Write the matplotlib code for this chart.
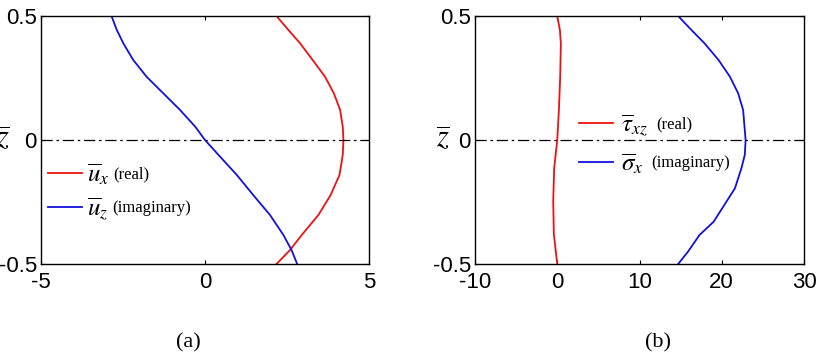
import numpy as np
import matplotlib
matplotlib.use('Agg')
import matplotlib.pyplot as plt

plt.rcParams['font.family'] = 'Liberation Sans'
plt.rcParams['mathtext.fontset'] = 'stix'

# panel (a): displacements
z_a = [0.5, 0.444, 0.390, 0.323, 0.255, 0.188, 0.121, 0.054, 0.0,
       -0.06, -0.141, -0.222, -0.302, -0.383, -0.444, -0.5]
ux_real = [2.18, 2.54, 2.90, 3.28, 3.66, 3.93, 4.12, 4.20, 4.22,
           4.20, 4.10, 3.83, 3.46, 2.95, 2.59, 2.18]
uz_imag = [-2.85, -2.69, -2.49, -2.19, -1.78, -1.27, -0.76, -0.30, 0.0,
           0.41, 0.97, 1.47, 1.98, 2.39, 2.64, 2.81]

# panel (b): stresses
z_tau = [0.5, 0.444, 0.39, 0.255, 0.121, 0.0, -0.113, -0.247, -0.38, -0.5]
tau_xz = [0.0, 0.32, 0.44, 0.36, 0.2, 0.0, -0.37, -0.49, -0.41, 0.0]
z_sig = [0.5, 0.444, 0.39, 0.323, 0.255, 0.188, 0.121, 0.0,
         -0.06, -0.113, -0.195, -0.247, -0.33, -0.383, -0.45, -0.5]
sigma_x = [14.7, 16.3, 17.9, 19.6, 21.0, 22.0, 22.6, 22.9,
           22.8, 22.4, 21.6, 20.6, 19.0, 17.3, 15.9, 14.7]

RED = '#ee1111'
BLUE = '#1111dd'

fig = plt.figure(figsize=(8.16, 3.56), dpi=100)
W, H = 816, 356
ax1 = fig.add_axes([41 / W, 1 - 264 / H, 328 / W, 248 / H])
ax2 = fig.add_axes([475 / W, 1 - 264 / H, 329 / W, 248 / H])


def style(ax, xlim, xticks, zx):
    ax.set_xlim(*xlim)
    ax.set_ylim(-0.5, 0.5)
    ax.set_xticks(xticks)
    ax.set_yticks([-0.5, 0, 0.5])
    ax.set_yticklabels(['-0.5', '0', '0.5'])
    ax.set_xticklabels([str(t) for t in xticks])
    ax.tick_params(direction='in', top=True, right=True, labelsize=16, length=3)
    ax.tick_params(axis='x', pad=6)
    ax.tick_params(axis='y', pad=3)
    ax.axhline(0, color='black', linestyle=(0, (9, 3, 2, 3)), linewidth=0.9)
    for s in ax.spines.values():
        s.set_linewidth(1.0)
    ax.set_ylabel(r'$\overline{z}$', rotation=0, fontsize=22, va='center', ha='center')
    ax.yaxis.set_label_coords(zx, 0.5)


ax1.plot(ux_real, z_a, color=RED, lw=1.3, label=r'$\overline{u}_x$')
ax1.plot(uz_imag, z_a, color=BLUE, lw=1.3, label=r'$\overline{u}_z$')
style(ax1, (-5, 5), [-5, 0, 5], -0.115)
leg1 = ax1.legend(loc='upper left', bbox_to_anchor=(0.021, 0.413), frameon=False,
                  fontsize=18, handlelength=1.36, labelspacing=0.34,
                  handletextpad=0.2, borderaxespad=0, borderpad=0)

ax2.plot(tau_xz, z_tau, color=RED, lw=1.3, label=r'$\overline{\tau}_{xz}$')
ax2.plot(sigma_x, z_sig, color=BLUE, lw=1.3, label=r'$\overline{\sigma}_x$')
style(ax2, (-10, 30), [-10, 0, 10, 20, 30], -0.097)
leg2 = ax2.legend(loc='upper left', bbox_to_anchor=(0.316, 0.611), frameon=False,
                  fontsize=18, handlelength=1.36, labelspacing=0.49,
                  handletextpad=0.32, borderaxespad=0, borderpad=0)

# words after the math symbols in the legends, level with the legend lines
fig.canvas.draw()
inv = fig.transFigure.inverted()
for leg, words, gap in [(leg1, ['(real)', '(imaginary)'], 4),
                        (leg2, ['(real)', '(imaginary)'], 8)]:
    for t, h, w in zip(leg.get_texts(), leg.legend_handles, words):
        bb = t.get_window_extent()
        hy = h.get_transform().transform(h.get_xydata())[0][1]
        x, y = inv.transform((bb.x1 + gap, hy - 1))
        fig.text(x, y, w, family='Liberation Serif', fontsize=12, ha='left', va='center')

fig.text(188 / W, 1 - 343 / H, '(a)', family='Liberation Serif', fontsize=16, ha='center', va='center')
fig.text(658 / W, 1 - 343 / H, '(b)', family='Liberation Serif', fontsize=16, ha='center', va='center')

fig.savefig('out.png', dpi=100)
